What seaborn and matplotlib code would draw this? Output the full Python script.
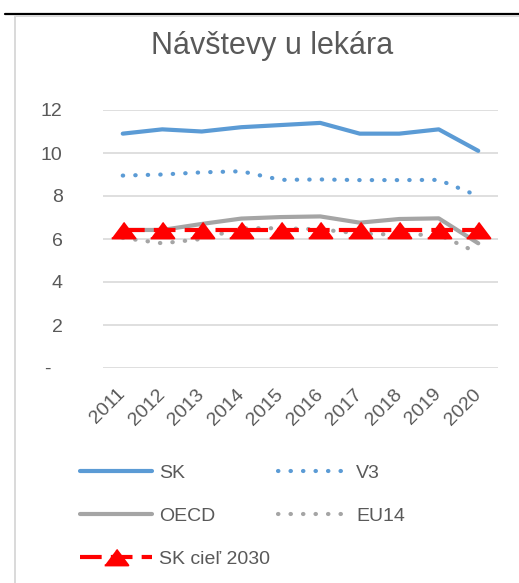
import numpy as np
import pandas as pd
import matplotlib
matplotlib.use("Agg")
import matplotlib.pyplot as plt
from matplotlib.lines import Line2D
import seaborn as sns

sns.set_theme(style="white")
plt.rcParams['font.family'] = ['Liberation Sans', 'DejaVu Sans']

years = ["2011", "2012", "2013", "2014", "2015", "2016", "2017", "2018", "2019", "2020"]
sk = [10.9, 11.1, 11.0, 11.2, 11.3, 11.4, 10.9, 10.9, 11.1, 10.1]
v3 = [8.95, 9.0, 9.1, 9.15, 8.75, 8.77, 8.74, 8.74, 8.75, 8.0]
oecd = [6.42, 6.42, 6.7, 6.95, 7.02, 7.05, 6.76, 6.93, 6.96, 5.8]
eu14 = [6.05, 5.8, 6.0, 6.5, 6.5, 6.45, 6.25, 6.2, 6.2, 5.35]
sk_ciel = [6.4, 6.4, 6.4, 6.4, 6.4, 6.4, 6.4, 6.4, 6.4, 6.4]
yticks = [0, 2, 4, 6, 8, 10, 12]
ytick_labels = ["-  ", "2", "4", "6", "8", "10", "12"]

txt = "#595959"
blue = "#5B9BD5"
grey = "#A5A5A5"
red = "#FF0000"

fig = plt.figure(figsize=(5.19, 5.83), dpi=100)
ax = fig.add_axes([103 / 519, 1 - 368 / 583, 395 / 519, 258 / 583])

# frame lines around the chart (black top rule + light grey box)
fig.add_artist(Line2D([5 / 519, 1], [1 - 13.5 / 583] * 2, color="black", lw=1.6))
fig.add_artist(Line2D([14.5 / 519, 14.5 / 519, 1], [0, 1 - 15.5 / 583, 1 - 15.5 / 583],
                      color="#D9D9D9", lw=1.4))

dot = (0, (0.1, 2.9))
tri = [(-1.5, -1), (1.5, -1), (0, 1)]

sns.lineplot(x=years, y=sk, ax=ax, color=blue, lw=3, label="SK", solid_capstyle="round")
sns.lineplot(x=years, y=v3, ax=ax, color=blue, lw=3, linestyle=dot, dash_capstyle="round", label="V3")
sns.lineplot(x=years, y=oecd, ax=ax, color=grey, lw=3, label="OECD", solid_capstyle="round")
sns.lineplot(x=years, y=eu14, ax=ax, color=grey, lw=3, linestyle=dot, dash_capstyle="round", label="EU14")
sns.lineplot(x=years, y=sk_ciel, ax=ax, color=red, lw=3, linestyle=(0, (5.2, 2.2)),
             marker=tri, markersize=17, markeredgewidth=1.5, markeredgecolor=red,
             label="SK cieľ 2030")

ax.set_xlim(-0.5, len(years) - 0.5)
ax.set_ylim(0, 12)
ax.set_yticks(yticks)
ax.set_yticklabels(ytick_labels)
ax.set_xlabel("")
ax.set_ylabel("")
for s in ax.spines.values():
    s.set_visible(False)
ax.grid(axis="y", color="#D9D9D9", lw=1.2)
ax.set_axisbelow(True)
ax.tick_params(axis="y", length=0, pad=29, labelsize=14, labelcolor=txt)
ax.tick_params(axis="x", length=0, pad=17, labelsize=14, labelcolor=txt)
for lab in ax.get_xticklabels():
    lab.set_rotation(45)
    lab.set_ha("right")
    lab.set_va("center")
    lab.set_rotation_mode("anchor")

fig.text(272 / 519, 1 - 46 / 583, "Návštevy u lekára", ha="center", va="center",
         fontsize=22, color=txt)

h, l = ax.get_legend_handles_labels()
ax.get_legend().remove()
order = [0, 2, 4, 1, 3]
fig.legend([h[i] for i in order], [l[i] for i in order], ncol=2, frameon=False,
           loc="upper left", bbox_to_anchor=(80 / 519, 1 - 464 / 583),
           fontsize=14, labelcolor=txt, handlelength=3.7, handletextpad=0.35,
           columnspacing=0.4, labelspacing=1.32, borderpad=0, borderaxespad=0)

fig.savefig("out.png", dpi=100)
